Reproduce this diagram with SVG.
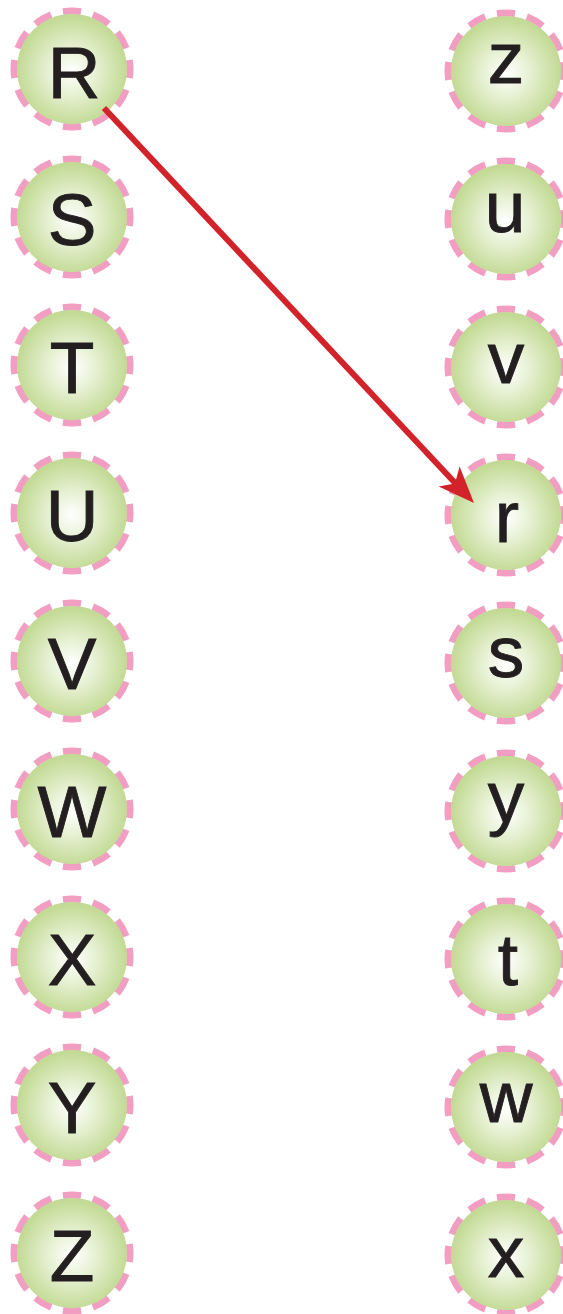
<svg xmlns="http://www.w3.org/2000/svg" width="563" height="1314" viewBox="0 0 563 1314">
<defs>
<radialGradient id="g" cx="50%" cy="52%" r="50%">
<stop offset="0" stop-color="#ffffff"/>
<stop offset="0.4" stop-color="#e8f2d6"/>
<stop offset="1" stop-color="#c2da94"/>
</radialGradient>
<style>
.ring{fill:none;stroke:#f19ec2;stroke-width:7;stroke-dasharray:18 12;stroke-dashoffset:9}
.fill{fill:url(#g)}
.lbl{font-family:"Liberation Sans",Arial,sans-serif;font-size:73px;fill:#231f20;stroke:#231f20;stroke-width:0.9;text-anchor:middle}
.edge{stroke:#d2232a;stroke-width:6;fill:none}
.head{fill:#d2232a}
</style>
</defs>
<g id="node-R"><circle class="ring" cx="72" cy="69" r="58" pathLength="360"/><circle class="fill" cx="72" cy="69" r="55"/><text class="lbl" x="74" y="98">R</text></g>
<g id="node-S"><circle class="ring" cx="72" cy="217" r="58" pathLength="360"/><circle class="fill" cx="72" cy="217" r="55"/><text class="lbl" x="72" y="245">S</text></g>
<g id="node-T"><circle class="ring" cx="72" cy="365" r="58" pathLength="360"/><circle class="fill" cx="72" cy="365" r="55"/><text class="lbl" x="72" y="393">T</text></g>
<g id="node-U"><circle class="ring" cx="72" cy="513" r="58" pathLength="360"/><circle class="fill" cx="72" cy="513" r="55"/><text class="lbl" x="72" y="541">U</text></g>
<g id="node-V"><circle class="ring" cx="72" cy="661" r="58" pathLength="360"/><circle class="fill" cx="72" cy="661" r="55"/><text class="lbl" x="72" y="689">V</text></g>
<g id="node-W"><circle class="ring" cx="72" cy="809" r="58" pathLength="360"/><circle class="fill" cx="72" cy="809" r="55"/><text class="lbl" x="72" y="837">W</text></g>
<g id="node-X"><circle class="ring" cx="72" cy="957" r="58" pathLength="360"/><circle class="fill" cx="72" cy="957" r="55"/><text class="lbl" x="72" y="985">X</text></g>
<g id="node-Y"><circle class="ring" cx="72" cy="1105" r="58" pathLength="360"/><circle class="fill" cx="72" cy="1105" r="55"/><text class="lbl" x="72" y="1133">Y</text></g>
<g id="node-Z"><circle class="ring" cx="72" cy="1253" r="58" pathLength="360"/><circle class="fill" cx="72" cy="1253" r="55"/><text class="lbl" x="72" y="1281">Z</text></g>

<g id="node-z"><circle class="ring" cx="506" cy="71" r="58" pathLength="360"/><circle class="fill" cx="506" cy="71" r="55"/><text class="lbl" x="506" y="83">z</text></g>
<g id="node-u"><circle class="ring" cx="506" cy="219" r="58" pathLength="360"/><circle class="fill" cx="506" cy="219" r="55"/><text class="lbl" x="505" y="232">u</text></g>
<g id="node-v"><circle class="ring" cx="506" cy="367" r="58" pathLength="360"/><circle class="fill" cx="506" cy="367" r="55"/><text class="lbl" x="506" y="383">v</text></g>
<g id="node-r"><circle class="ring" cx="506" cy="515" r="58" pathLength="360"/><circle class="fill" cx="506" cy="515" r="55"/><text class="lbl" x="507" y="542">r</text></g>
<g id="node-s"><circle class="ring" cx="506" cy="663" r="58" pathLength="360"/><circle class="fill" cx="506" cy="663" r="55"/><text class="lbl" x="506" y="677">s</text></g>
<g id="node-y"><circle class="ring" cx="506" cy="811" r="58" pathLength="360"/><circle class="fill" cx="506" cy="811" r="55"/><text class="lbl" x="506" y="822">y</text></g>
<g id="node-t"><circle class="ring" cx="506" cy="959" r="58" pathLength="360"/><circle class="fill" cx="506" cy="959" r="55"/><text class="lbl" x="508" y="985">t</text></g>
<g id="node-w"><circle class="ring" cx="506" cy="1107" r="58" pathLength="360"/><circle class="fill" cx="506" cy="1107" r="55"/><text class="lbl" x="506" y="1122">w</text></g>
<g id="node-x"><circle class="ring" cx="506" cy="1255" r="58" pathLength="360"/><circle class="fill" cx="506" cy="1255" r="55"/><text class="lbl" x="506" y="1277">x</text></g>

<g id="connectors">
<line class="edge" x1="104" y1="108" x2="457" y2="485"/>
<path class="head" d="M474,503 L438.6,486.4 L455,483.5 L459.6,466.6 Z"/>
</g>
</svg>
